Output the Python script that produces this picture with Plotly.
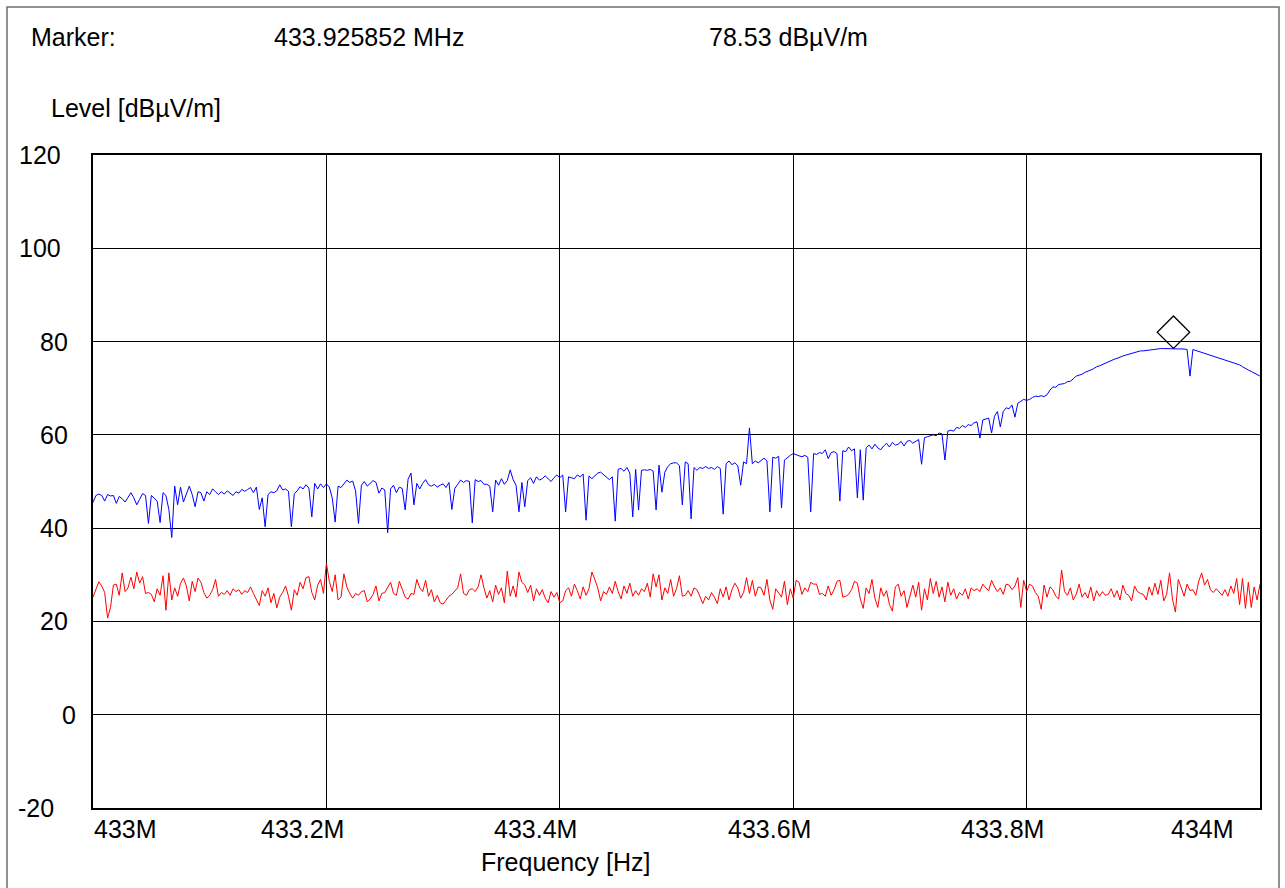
import numpy as np
import plotly.graph_objects as go

# Sweep: 433 MHz .. 434 MHz
F_START_MHZ = 433.0
F_STOP_MHZ = 434.0

# Measured level (peak detector), dBµV/m
level_peak = [
    45.5, 47.0, 47.3, 47.0, 45.8, 47.2, 46.9, 47.0, 45.3, 46.8,
    46.3, 45.6, 46.6, 47.6, 46.5, 45.0, 46.2, 47.4, 47.0, 41.0,
    47.0, 46.5, 45.8, 41.2, 47.6, 47.0, 44.0, 38.0, 49.0, 45.0,
    48.8, 45.6, 47.4, 49.0, 47.2, 44.6, 47.8, 47.6, 45.8, 47.8,
    47.2, 48.4, 47.8, 47.2, 47.8, 47.3, 48.0, 47.4, 47.0, 47.8,
    47.5, 48.3, 47.9, 48.3, 48.7, 47.6, 48.8, 44.0, 46.5, 40.3,
    47.2, 47.8, 47.6, 48.0, 49.3, 48.2, 48.4, 47.9, 40.3, 47.4,
    48.0, 48.9, 48.4, 49.3, 48.6, 42.4, 49.6, 48.4, 49.5, 48.7,
    49.5, 48.8, 46.5, 41.3, 49.0, 48.7, 49.5, 50.3, 49.8, 50.1,
    48.0, 41.0, 49.2, 50.0, 49.0, 49.6, 50.2, 49.8, 47.5, 48.6,
    48.2, 39.0, 48.4, 49.2, 47.6, 48.8, 48.5, 43.9, 50.5, 51.8,
    45.0, 49.6, 48.4, 49.6, 50.4, 49.3, 49.0, 49.4, 48.8, 49.2,
    49.5, 48.7, 49.8, 44.0, 48.5, 49.4, 50.3, 49.8, 50.2, 50.0,
    41.1, 50.4, 50.0, 50.2, 49.4, 49.4, 49.0, 43.5, 50.3, 49.2,
    50.6, 49.4, 50.2, 52.5, 50.4, 49.2, 43.5, 49.8, 44.6, 50.2,
    50.8, 49.6, 51.0, 50.3, 50.6, 51.2, 50.6, 50.0, 50.8, 51.4,
    50.8, 51.4, 43.5, 51.0, 50.8, 50.6, 51.4, 51.0, 51.6, 41.7,
    51.2, 50.6, 51.2, 51.8, 52.0, 51.4, 50.8, 50.4, 51.0, 41.5,
    52.6, 52.8, 52.2, 53.0, 51.8, 42.4, 52.6, 43.9, 52.4, 52.5,
    52.4, 52.6, 52.2, 43.9, 53.5, 47.7, 52.0, 53.2, 53.8, 54.0,
    54.0, 53.4, 45.0, 54.2, 53.8, 42.0, 53.0, 52.4, 53.0, 52.8,
    53.2, 52.8, 53.0, 52.6, 53.2, 52.8, 43.0, 53.8, 54.4, 53.6,
    54.0, 53.4, 49.2, 54.2, 53.8, 61.5, 53.8, 54.4, 54.0, 54.6,
    55.0, 54.4, 43.5, 55.2, 55.0, 55.4, 44.3, 54.6, 55.2, 55.6,
    56.0, 55.7, 55.5, 55.3, 55.6, 55.2, 43.5, 56.0, 55.8, 56.2,
    56.0, 56.8, 54.9, 56.2, 56.4, 56.0, 45.8, 56.6, 56.4, 57.4,
    56.6, 57.0, 46.5, 56.8, 46.0, 57.2, 57.8, 57.0, 58.0, 57.2,
    56.8, 57.6, 58.2, 57.4, 58.4, 57.8, 58.0, 58.6, 57.6, 58.6,
    58.8, 58.2, 58.6, 59.0, 53.7, 59.4, 59.6, 59.8, 60.0, 59.8,
    60.4, 60.2, 54.6, 60.8, 61.0, 60.8, 61.6, 61.4, 62.0, 61.6,
    62.2, 62.0, 62.6, 62.8, 59.3, 63.2, 63.4, 63.6, 60.4, 64.0,
    65.0, 61.7, 65.0, 65.8, 65.6, 66.4, 63.8, 66.8, 67.2, 67.6,
    67.4, 67.6, 68.0, 68.3, 68.2, 68.4, 68.2, 68.6, 69.6, 70.3,
    70.2, 70.8, 70.9, 71.0, 71.4, 71.5, 72.0, 72.6, 72.8, 73.0,
    73.4, 73.6, 73.9, 74.2, 74.6, 74.8, 75.1, 75.4, 75.7, 75.9,
    76.2, 76.4, 76.7, 76.9, 77.1, 77.3, 77.5, 77.7, 77.8, 78.0,
    78.0, 78.1, 78.2, 78.3, 78.4, 78.4, 78.5, 78.5, 78.5, 78.5,
    78.53, 78.5, 78.5, 78.4, 78.4, 78.3, 72.6, 78.3, 78.1, 77.9,
    77.7, 77.5, 77.3, 77.1, 76.9, 76.7, 76.5, 76.3, 76.1, 75.9,
    75.7, 75.5, 75.2, 75.0, 74.6, 74.2, 73.9, 73.6, 73.3, 72.9,
    72.6,
]

# Ambient / noise floor, dBµV/m
level_noise = [
    25.2, 27.0, 28.5, 27.6, 26.2, 20.7, 23.0, 27.8, 28.0, 25.6,
    30.4, 26.4, 27.2, 29.5, 27.0, 30.6, 28.2, 29.6, 26.0, 26.2,
    25.8, 24.2, 27.0, 25.6, 29.8, 22.4, 30.4, 24.6, 27.2, 25.4,
    28.2, 29.3, 27.6, 24.4, 28.6, 26.4, 29.3, 28.4, 26.2, 25.0,
    25.6, 26.8, 29.0, 25.4, 26.2, 25.8, 26.6, 25.6, 27.0, 26.4,
    26.8, 25.8, 26.6, 26.2, 27.4, 26.0, 24.8, 23.4, 26.6, 25.4,
    27.2, 24.0, 26.0, 22.9, 25.2, 26.2, 27.6, 25.4, 22.4, 26.8,
    25.6, 28.4, 27.0, 29.4, 29.6, 26.2, 24.6, 27.8, 29.0, 26.0,
    32.5, 28.6, 26.4, 30.0, 24.6, 25.2, 30.2, 27.4, 26.0, 25.0,
    26.0, 25.6, 26.4, 26.6, 24.2, 24.8, 25.8, 27.6, 24.4, 26.0,
    26.2, 27.2, 28.4, 26.0, 25.6, 28.6, 26.8, 25.2, 24.8, 26.0,
    25.8, 29.0, 27.2, 26.4, 28.8, 25.4, 26.8, 24.2, 25.6, 24.0,
    23.7, 24.6, 25.4, 25.8, 26.6, 27.2, 30.2, 26.0, 25.6, 26.8,
    27.0, 26.4, 27.4, 30.0, 27.2, 25.0, 26.6, 24.2, 27.8, 25.8,
    27.2, 24.0, 30.8, 25.4, 27.6, 25.2, 30.6, 28.4, 27.8, 26.2,
    27.8, 24.4, 27.0, 25.6, 26.8, 25.0, 24.0, 26.4, 25.2, 26.2,
    24.0, 24.4, 26.6, 27.2, 25.4, 28.0, 26.6, 24.8, 27.4, 25.6,
    27.0, 30.6, 29.0, 27.2, 24.4, 26.4, 25.8, 27.4, 26.0, 28.6,
    26.4, 24.8, 27.6, 26.0, 28.2, 25.4, 26.6, 25.6, 27.0, 26.4,
    28.2, 25.2, 30.2, 27.4, 30.0, 24.6, 27.2, 26.0, 29.0, 25.4,
    27.0, 29.8, 25.4, 25.6, 26.6, 25.4, 27.2, 26.8, 25.4, 23.8,
    25.4, 24.6, 26.2, 25.2, 23.8, 27.0, 25.2, 27.4, 24.6, 26.8,
    28.2, 27.2, 25.0, 26.2, 29.4, 26.0, 28.8, 25.4, 27.4, 27.2,
    25.6, 29.0, 24.6, 22.6, 27.0, 26.0, 25.2, 28.6, 23.6, 27.0,
    25.0, 28.8, 28.4, 25.8, 27.2, 26.4, 28.4, 28.0, 28.0, 25.8,
    26.0, 25.4, 27.6, 25.6, 26.8, 28.6, 28.8, 25.2, 25.4, 25.8,
    26.8, 28.6, 28.2, 24.8, 22.8, 27.2, 26.0, 29.0, 25.0, 23.0,
    27.2, 25.4, 26.6, 23.6, 22.2, 27.4, 28.0, 25.4, 26.6, 23.0,
    25.6, 27.8, 25.2, 28.4, 22.4, 27.0, 24.6, 29.2, 26.0, 28.6,
    25.2, 27.4, 24.2, 28.4, 25.6, 27.0, 24.8, 26.2, 25.6, 27.0,
    24.8, 27.2, 26.6, 27.0, 26.4, 28.0, 27.2, 26.6, 28.8, 27.4,
    26.4, 27.2, 25.8, 28.0, 27.8, 26.8, 27.6, 29.4, 23.0, 28.8,
    26.4, 28.0, 27.6, 26.2, 25.4, 22.6, 27.8, 25.2, 27.4, 26.8,
    25.4, 24.8, 31.0, 26.4, 25.6, 27.2, 24.6, 25.8, 28.0, 25.2,
    26.2, 25.0, 27.4, 24.4, 26.6, 25.4, 26.4, 25.6, 25.8, 27.0,
    25.2, 26.6, 24.6, 27.8, 26.0, 25.6, 24.4, 27.6, 26.4, 26.0,
    25.8, 24.6, 27.4, 25.6, 28.2, 25.8, 28.8, 24.4, 25.8, 30.4,
    24.8, 22.0, 29.0, 27.4, 25.4, 28.0, 26.6, 26.8, 25.6, 28.6,
    30.4, 27.8, 29.0, 26.8, 26.2, 27.0, 26.4, 25.6, 26.8, 25.4,
    27.6, 26.0, 29.2, 23.6, 29.2, 22.8, 28.4, 23.0, 27.4, 24.6,
    28.0,
]

# Marker readout
marker_freq_mhz = 433.925852
marker_level = 78.53

# Axis ticks
x_ticks = [433.0, 433.2, 433.4, 433.6, 433.8, 434.0]
x_tick_text = ["433M", "433.2M", "433.4M", "433.6M", "433.8M", "434M"]
y_ticks = [120, 100, 80, 60, 40, 20, 0, -20]
y_tick_text = ["120", "100", "80", "60", "40", "20", "0", "-20"]

FONT = "Liberation Sans, Arial, sans-serif"
FS = 25
W, H = 1285, 888
M_L, M_R, M_T, M_B = 93, 25, 155, 80
PLOT_W = W - M_L - M_R
PLOT_H = H - M_T - M_B
Y_MIN, Y_MAX = -20, 120

freq_peak = np.linspace(F_START_MHZ, F_STOP_MHZ, len(level_peak))
freq_noise = np.linspace(F_START_MHZ, F_STOP_MHZ, len(level_noise))

fig = go.Figure()
fig.add_trace(go.Scatter(x=freq_noise, y=level_noise, mode="lines",
                         line=dict(color="#ff0000", width=1), hoverinfo="skip"))
fig.add_trace(go.Scatter(x=freq_peak, y=level_peak, mode="lines",
                         line=dict(color="#0000ff", width=1), hoverinfo="skip"))

# Diamond marker sitting on top of the marker point
diamond_size = 25
px_per_db = PLOT_H / (Y_MAX - Y_MIN)
half_h = 1.3 * diamond_size / 2
fig.add_trace(go.Scatter(
    x=[marker_freq_mhz], y=[marker_level + half_h / px_per_db], mode="markers",
    marker=dict(symbol="diamond-open", size=diamond_size,
                color="black", line=dict(color="black", width=1.3)),
    hoverinfo="skip", cliponaxis=False))

ann = []
txt = dict(family=FONT, size=FS, color="black")


def paper_x(px):
    return (px - M_L) / PLOT_W


def paper_y(py):
    return (H - M_B - py) / PLOT_H


# Header
ann.append(dict(text="Marker:", x=paper_x(29), y=paper_y(37), xanchor="left"))
ann.append(dict(text="433.925852 MHz", x=paper_x(272), y=paper_y(37), xanchor="left"))
ann.append(dict(text="78.53 dBµV/m", x=paper_x(707), y=paper_y(37), xanchor="left"))
ann.append(dict(text="Level [dBµV/m]", x=paper_x(49), y=paper_y(108), xanchor="left"))
ann.append(dict(text="Frequency [Hz]", x=paper_x(566), y=paper_y(862), xanchor="center"))
for a in ann:
    a.update(xref="paper", yref="paper", yanchor="middle", showarrow=False, font=txt)

# X tick labels
for i, (v, t) in enumerate(zip(x_ticks, x_tick_text)):
    if i == 0:
        xa, xs = "left", -1
    elif i == len(x_ticks) - 1:
        xa, xs = "right", -24
    else:
        xa, xs = "center", -24
    ann.append(dict(text=t, x=v, xref="x", y=paper_y(829), yref="paper",
                    xanchor=xa, yanchor="middle", xshift=xs,
                    showarrow=False, font=txt))

# Y tick labels
y_shift = {120: -30, 100: -30, 0: -15, -20: -37}
for v, t in zip(y_ticks, y_tick_text):
    ann.append(dict(text=t, x=0, xref="paper", y=v, yref="y",
                    xanchor="right", yanchor="middle", xshift=y_shift.get(v, -23),
                    showarrow=False, font=txt))

fig.update_layout(
    width=W, height=H,
    margin=dict(l=M_L, r=M_R, t=M_T, b=M_B, pad=0),
    paper_bgcolor="white", plot_bgcolor="white",
    showlegend=False,
    annotations=ann,
    shapes=[dict(type="rect", xref="paper", yref="paper",
                 x0=paper_x(7), x1=paper_x(1279), y0=paper_y(900), y1=paper_y(7),
                 line=dict(color="#6e6e6e", width=1.5), layer="below")],
)
fig.update_xaxes(range=[F_START_MHZ, F_STOP_MHZ], tickvals=x_ticks, showticklabels=False,
                 ticks="", showgrid=True, gridcolor="black", gridwidth=1,
                 zeroline=False, showline=True, linecolor="black", linewidth=1.5,
                 mirror=True, fixedrange=True)
fig.update_yaxes(range=[Y_MIN, Y_MAX], tickvals=y_ticks, showticklabels=False,
                 ticks="", showgrid=True, gridcolor="black", gridwidth=1,
                 zeroline=False, showline=True, linecolor="black", linewidth=1.5,
                 mirror=True, fixedrange=True)

fig.write_html("out.html", config={"displayModeBar": False})
